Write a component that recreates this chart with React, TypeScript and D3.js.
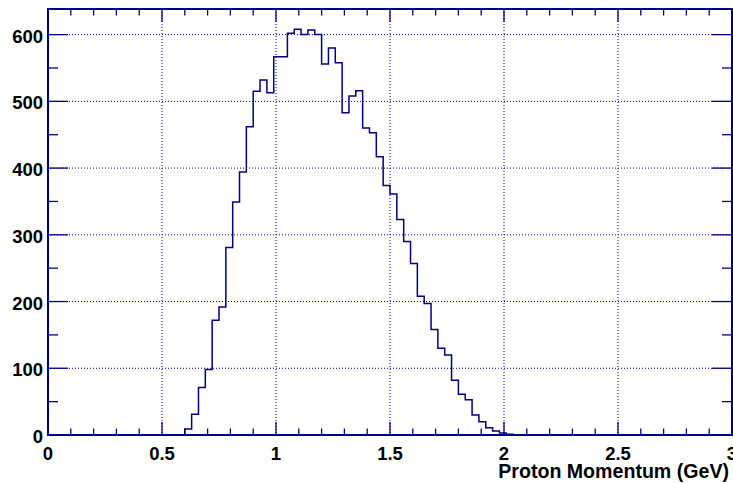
import React from "react";
import * as d3 from "d3";

// Histogram: 100 bins over [0, 3] GeV, bin width 0.03
const xMin = 0;
const xMax = 3;
const binCounts: number[] = [
  0, 0, 0, 0, 0, 0, 0, 0, 0, 0,
  0, 0, 0, 0, 0, 0, 0, 0, 0, 0,
  9, 31, 71, 98, 172, 192, 281, 349, 394, 462,
  515, 532, 513, 567, 567, 602, 608, 600, 607, 600,
  556, 580, 558, 483, 508, 516, 460, 453, 417, 374,
  361, 323, 290, 257, 208, 197, 158, 130, 120, 82,
  61, 53, 30, 20, 11, 6, 3, 1, 0, 0,
  0, 0, 0, 0, 0, 0, 0, 0, 0, 0,
  0, 0, 0, 0, 0, 0, 0, 0, 0, 0,
  0, 0, 0, 0, 0, 0, 0, 0, 0, 0,
];
const xMajorTicks = [0, 0.5, 1, 1.5, 2, 2.5, 3];
const xTickLabels = ["0", "0.5", "1", "1.5", "2", "2.5", "3"];
const xMinorTicks = d3.range(0, 31).map((i) => i / 10);
const yMajorTicks = [0, 100, 200, 300, 400, 500, 600];
const yMinorTicks = [50, 150, 250, 350, 450, 550];
const xTitle = "Proton Momentum (GeV)";

const W = 733;
const H = 483;
const L = 48;
const R = 732;
const T = 9;
const B = 435;
const NAVY = "#000080";
const FONT = "'Liberation Sans', Arial, Helvetica, sans-serif";

export default function App() {
  const yMax = (d3.max(binCounts) as number) * 1.05;
  const x = d3.scaleLinear().domain([xMin, xMax]).range([L, R]);
  const y = d3.scaleLinear().domain([0, yMax]).range([B, T]);
  const bw = (xMax - xMin) / binCounts.length;
  const pts: [number, number][] = binCounts.map((c, i) => [xMin + i * bw, c]);
  pts.push([xMax, binCounts[binCounts.length - 1]]);
  const line = d3
    .line<[number, number]>()
    .x((d) => x(d[0]))
    .y((d) => y(d[1]))
    .curve(d3.curveStepAfter);

  const majX = 13;
  const minX = 6.5;
  const majY = 20;
  const minY = 10;

  return (
    <svg
      width={W}
      height={H}
      style={{ position: "absolute", left: 0, top: 0, background: "#fff" }}
    >
      <rect x={0} y={0} width={W} height={H} fill="#fff" />
      {/* grid */}
      <g stroke={NAVY} strokeWidth={1} strokeDasharray="1 2" fill="none">
        {xMajorTicks.slice(1, -1).map((t) => (
          <line key={"gx" + t} x1={x(t)} x2={x(t)} y1={T} y2={B} />
        ))}
        {yMajorTicks.slice(1).map((t) => (
          <line key={"gy" + t} x1={L} x2={R} y1={y(t)} y2={y(t)} />
        ))}
      </g>
      {/* histogram */}
      <path d={line(pts) || ""} fill="none" stroke={NAVY} strokeWidth={1.5} />
      {/* ticks */}
      <g stroke={NAVY} strokeWidth={1.3}>
        {xMinorTicks.map((t) => {
          const major = xMajorTicks.some((m) => Math.abs(m - t) < 1e-9);
          const len = major ? majX : minX;
          return (
            <g key={"tx" + t}>
              <line x1={x(t)} x2={x(t)} y1={B} y2={B - len} />
              <line x1={x(t)} x2={x(t)} y1={T} y2={T + len} />
            </g>
          );
        })}
        {yMajorTicks.map((t) => (
          <g key={"ty" + t}>
            <line x1={L} x2={L + majY} y1={y(t)} y2={y(t)} />
            <line x1={R} x2={R - majY} y1={y(t)} y2={y(t)} />
          </g>
        ))}
        {yMinorTicks.map((t) => (
          <g key={"tym" + t}>
            <line x1={L} x2={L + minY} y1={y(t)} y2={y(t)} />
            <line x1={R} x2={R - minY} y1={y(t)} y2={y(t)} />
          </g>
        ))}
      </g>
      {/* frame */}
      <rect
        x={L}
        y={T}
        width={R - L}
        height={B - T}
        fill="none"
        stroke={NAVY}
        strokeWidth={2}
      />
      {/* labels */}
      <g fontFamily={FONT} fontWeight="bold" fontSize={18.5} fill="#000">
        {xMajorTicks.map((t, i) => (
          <text key={"lx" + t} x={x(t)} y={460} textAnchor="middle">
            {xTickLabels[i]}
          </text>
        ))}
        {yMajorTicks.map((t) => (
          <text key={"ly" + t} x={43} y={y(t) + 8} textAnchor="end">
            {String(t)}
          </text>
        ))}
        <text x={729} y={478} textAnchor="end" fontSize={19.6}>
          {xTitle}
        </text>
      </g>
    </svg>
  );
}
